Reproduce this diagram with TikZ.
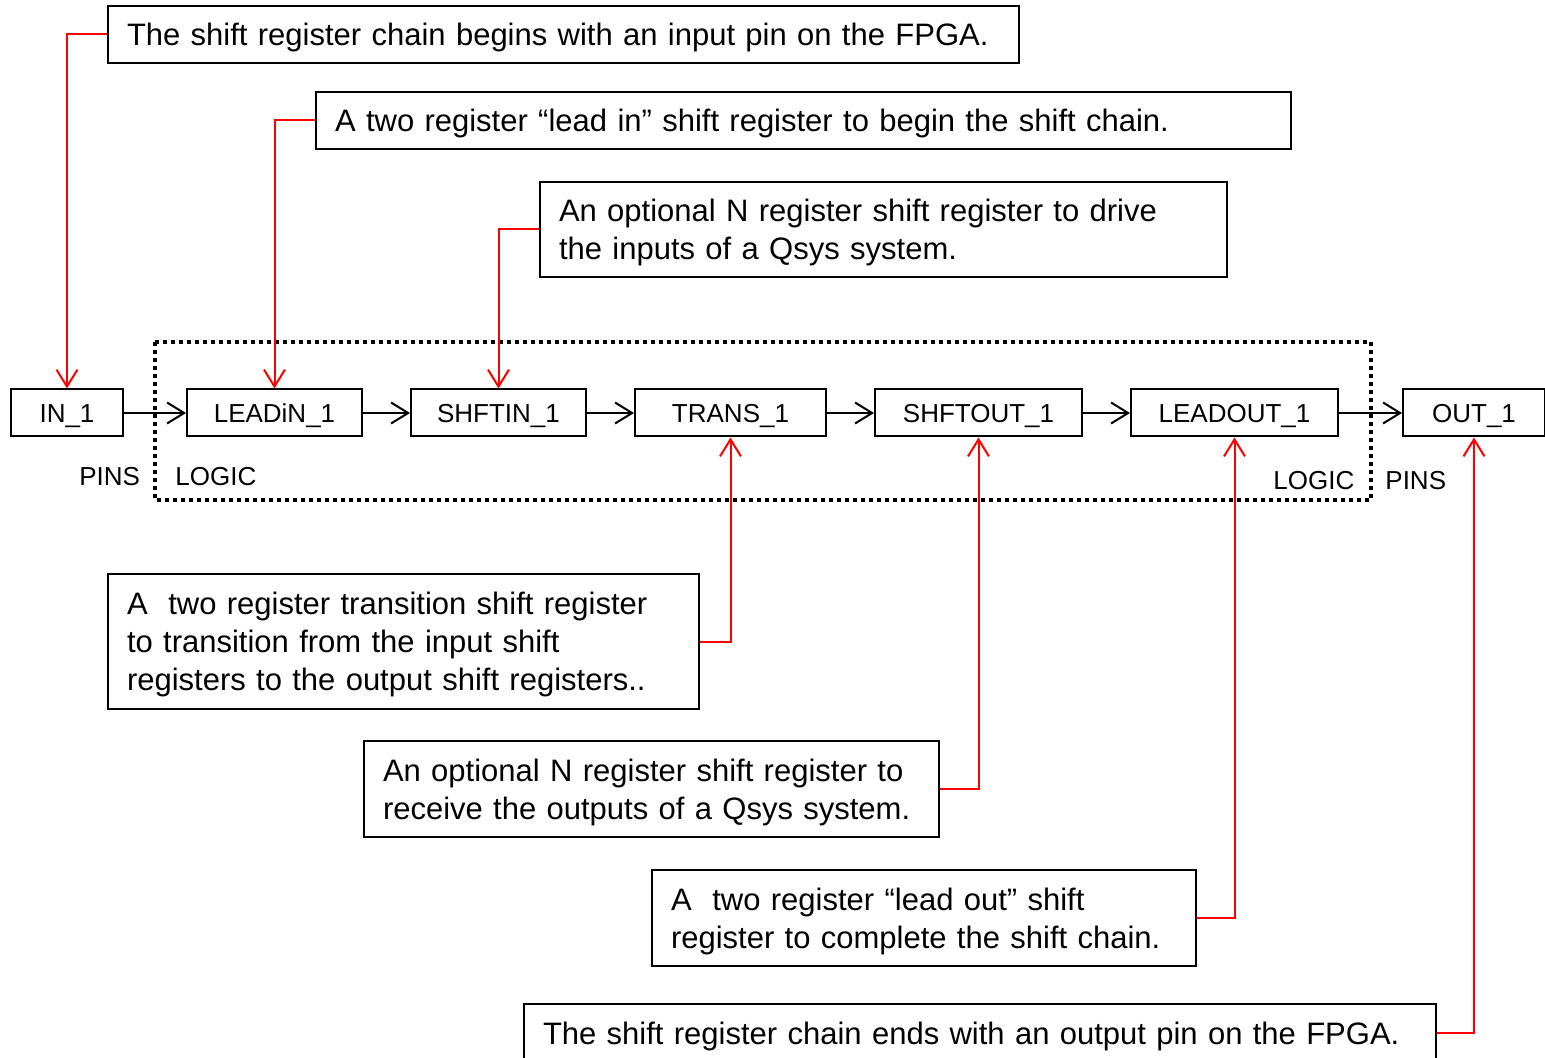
\documentclass[tikz,border=0pt]{standalone}
\usepackage{fontspec}
\setmainfont{Liberation Sans}
\usetikzlibrary{arrows.meta}
\begin{document}
\begin{tikzpicture}[x=0.5pt,y=-0.5pt,
  note/.style={draw, line width=1pt, anchor=north west, inner xsep=9.5pt, inner ysep=0pt,
    align=left, text depth=0pt, font=\fontsize{15.5}{19}\selectfont},
  % depth of all lines below the first, with no descender on the last one
  twolines/.style={text depth=19pt},
  threelines/.style={text depth=38pt},
  reg/.style={draw, line width=1pt, minimum height=23.5pt, inner sep=0pt,
    text height=9.3pt, text depth=0pt, font=\fontsize{13}{15.6}\selectfont},
  tag/.style={inner sep=0pt, anchor=west, text height=9.3pt, text depth=0pt,
    font=\fontsize{13}{15.6}\selectfont},
  flow/.style={line width=1pt, -{Straight Barb[length=8.5pt,width=10.5pt,line width=1pt]}},
  callout/.style={flow, red},
  region/.style={line width=1.8pt, dash pattern=on 1.8pt off 2.2pt}
]
\useasboundingbox (0,0) rectangle (1545,1058);
\clip (0,0) rectangle (1545,1058);

% logic region
\draw[region] (155,342) rectangle (1371,500);

% register chain
\node[reg, minimum width=56pt]   (in)      at (67,413)     {IN\_1};
\node[reg, minimum width=87.5pt] (leadin)  at (274.5,413)  {LEADiN\_1};
\node[reg, minimum width=87.5pt] (shftin)  at (498.5,413)  {SHFTIN\_1};
\node[reg, minimum width=95.5pt] (trans)   at (730.5,413)  {TRANS\_1};
\node[reg, minimum width=103.5pt](shftout) at (978.5,413)  {SHFTOUT\_1};
\node[reg, minimum width=103.5pt](leadout) at (1234.5,413) {LEADOUT\_1};
\node[reg, minimum width=71pt]   (out)     at (1474,413)   {OUT\_1};

\draw[flow] (in) -- (leadin);
\draw[flow] (leadin) -- (shftin);
\draw[flow] (shftin) -- (trans);
\draw[flow] (trans) -- (shftout);
\draw[flow] (shftout) -- (leadout);
\draw[flow] (leadout) -- (out);

% region labels
\node[tag] (pinsL)  at (79,476)   {PINS};
\node[tag] (logicL) at (175,476)  {LOGIC};
\node[tag] (logicR) at (1273,480) {LOGIC};
\node[tag] (pinsR)  at (1385,480) {PINS};

% explanatory notes
\node[note, text width=436.5pt, minimum height=28.5pt] (n1) at (107,5)
  {\mbox{The shift register chain begins with an input pin on the FPGA.}};
\node[note, text width=468.5pt, minimum height=28.5pt] (n2) at (315,91)
  {\mbox{A two register “lead in” shift register to begin the shift chain.}};
\node[note, twolines, text width=324.5pt, minimum height=47.5pt] (n3) at (539,181)
  {\mbox{An optional N register shift register to drive}\\\mbox{the inputs of a Qsys system.}};
\node[note, threelines, text width=276.5pt, minimum height=67.5pt] (n4) at (107,573)
  {\mbox{A\ \ two register transition shift register}\\\mbox{to transition from the input shift}\\\mbox{registers to the output shift registers..}};
\node[note, twolines, text width=268.5pt, minimum height=48pt] (n5) at (363,740)
  {\mbox{An optional N register shift register to}\\\mbox{receive the outputs of a Qsys system.}};
\node[note, twolines, text width=253pt, minimum height=48pt] (n6) at (651,869)
  {\mbox{A\ \ two register “lead out” shift}\\\mbox{register to complete the shift chain.}};
\node[note, text width=437pt, minimum height=29pt] (n7) at (523,1003)
  {\mbox{The shift register chain ends with an output pin on the FPGA.}};

% callouts
\draw[callout] (n1.west) -| (in.north);
\draw[callout] (n2.west) -| (leadin.north);
\draw[callout] (n3.west) -| (shftin.north);
\draw[callout] (n4.east) -| (trans.south);
\draw[callout] (n5.east) -| (shftout.south);
\draw[callout] (n6.east) -| (leadout.south);
\draw[callout] (n7.east) -| (out.south);
\end{tikzpicture}
\end{document}
